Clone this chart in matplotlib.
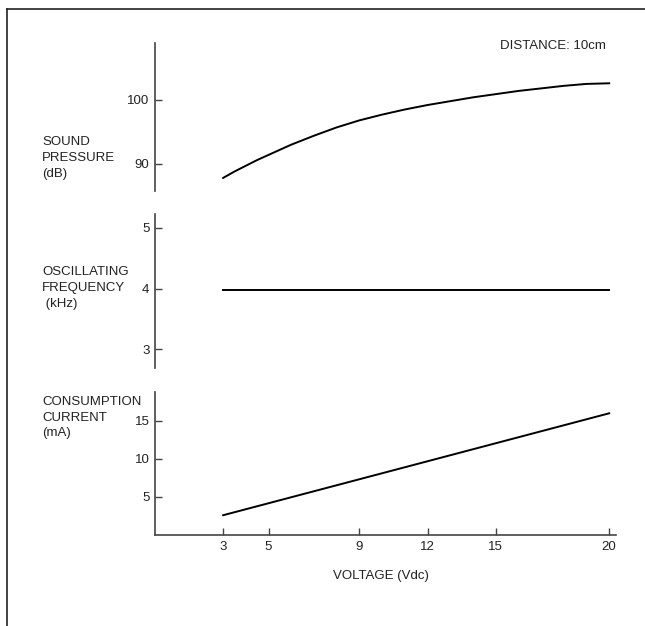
import matplotlib
matplotlib.use("Agg")
import matplotlib.pyplot as plt
from matplotlib.lines import Line2D

plt.rcParams['font.family'] = ['Liberation Sans', 'DejaVu Sans']

# Data
voltage_sp = [3, 3.5, 4, 4.5, 5, 5.5, 6, 7, 8, 9, 10, 11, 12, 13, 14, 15, 16, 17, 18, 19, 20]
sound_pressure = [87.8, 88.8, 89.7, 90.6, 91.4, 92.2, 93.0, 94.4, 95.7, 96.8, 97.7, 98.5,
                  99.2, 99.8, 100.4, 100.9, 101.4, 101.8, 102.2, 102.5, 102.6]
voltage_f = [3, 20]
frequency = [3.98, 3.98]
voltage_i = [3, 20]
current = [2.6, 16.0]
x_ticks = [3, 5, 9, 12, 15, 20]
sp_ticks = [90, 100]
f_ticks = [3, 4, 5]
i_ticks = [5, 10, 15]

W, H = 645, 626
fig = plt.figure(figsize=(W / 100, H / 100), dpi=100)

def add_ax(x0, x1, y0, y1):
    return fig.add_axes([x0 / W, 1 - y1 / H, (x1 - x0) / W, (y1 - y0) / H])

TXT = '#222222'
SP = '#444444'
FS = 9.5

def style(ax, bottom=False):
    for s in ['top', 'right']:
        ax.spines[s].set_visible(False)
    ax.spines['bottom'].set_visible(bottom)
    ax.spines['left'].set_color(SP)
    ax.spines['left'].set_linewidth(1.2)
    ax.spines['bottom'].set_color(SP)
    ax.spines['bottom'].set_linewidth(1.2)
    ax.tick_params(axis='y', direction='in', length=5, width=1, color=SP,
                   labelsize=FS, labelcolor=TXT, pad=4)
    ax.tick_params(axis='x', direction='in', length=5, width=1, color=SP,
                   labelsize=FS, labelcolor=TXT, pad=4)
    ax.set_xlim(0, 20.3)
    ax.patch.set_visible(False)
    if not bottom:
        ax.set_xticks([])

# Sound pressure
ax1 = add_ax(155, 616, 43, 190.7)
style(ax1)
ax1.plot(voltage_sp, sound_pressure, color='black', lw=1.4)
ax1.set_ylim(85.8, 108.9)
ax1.set_yticks(sp_ticks)

# Frequency
ax2 = add_ax(155, 616, 214, 368)
style(ax2)
ax2.plot(voltage_f, frequency, color='black', lw=1.4)
ax2.set_ylim(2.69, 5.23)
ax2.set_yticks(f_ticks)

# Current
ax3 = add_ax(155, 616, 392, 535)
style(ax3, bottom=True)
ax3.plot(voltage_i, current, color='black', lw=1.4)
ax3.set_ylim(0, 18.8)
ax3.set_yticks(i_ticks)
ax3.set_xticks(x_ticks)

def ftext(x, y, s, ha='left', va='center'):
    fig.text(x / W, 1 - y / H, s, ha=ha, va=va, fontsize=FS, color=TXT)

ftext(606, 46, 'DISTANCE: 10cm', ha='right')
for y, s in [(142, 'SOUND'), (158, 'PRESSURE'), (174, '(dB)'),
             (272, 'OSCILLATING'), (288, 'FREQUENCY'), (304, ' (kHz)'),
             (402, 'CONSUMPTION'), (418, 'CURRENT'), (433, '(mA)')]:
    ftext(42, y, s)
ftext(381, 576, 'VOLTAGE (Vdc)', ha='center')

# Frame (top and left edges)
fig.add_artist(Line2D([7 / W, 1.0], [1 - 9 / H, 1 - 9 / H], color='#222222', lw=1.2))
fig.add_artist(Line2D([7 / W, 7 / W], [1 - 9 / H, 0.0], color='#222222', lw=1.2))

fig.savefig('out.png', dpi=100)
